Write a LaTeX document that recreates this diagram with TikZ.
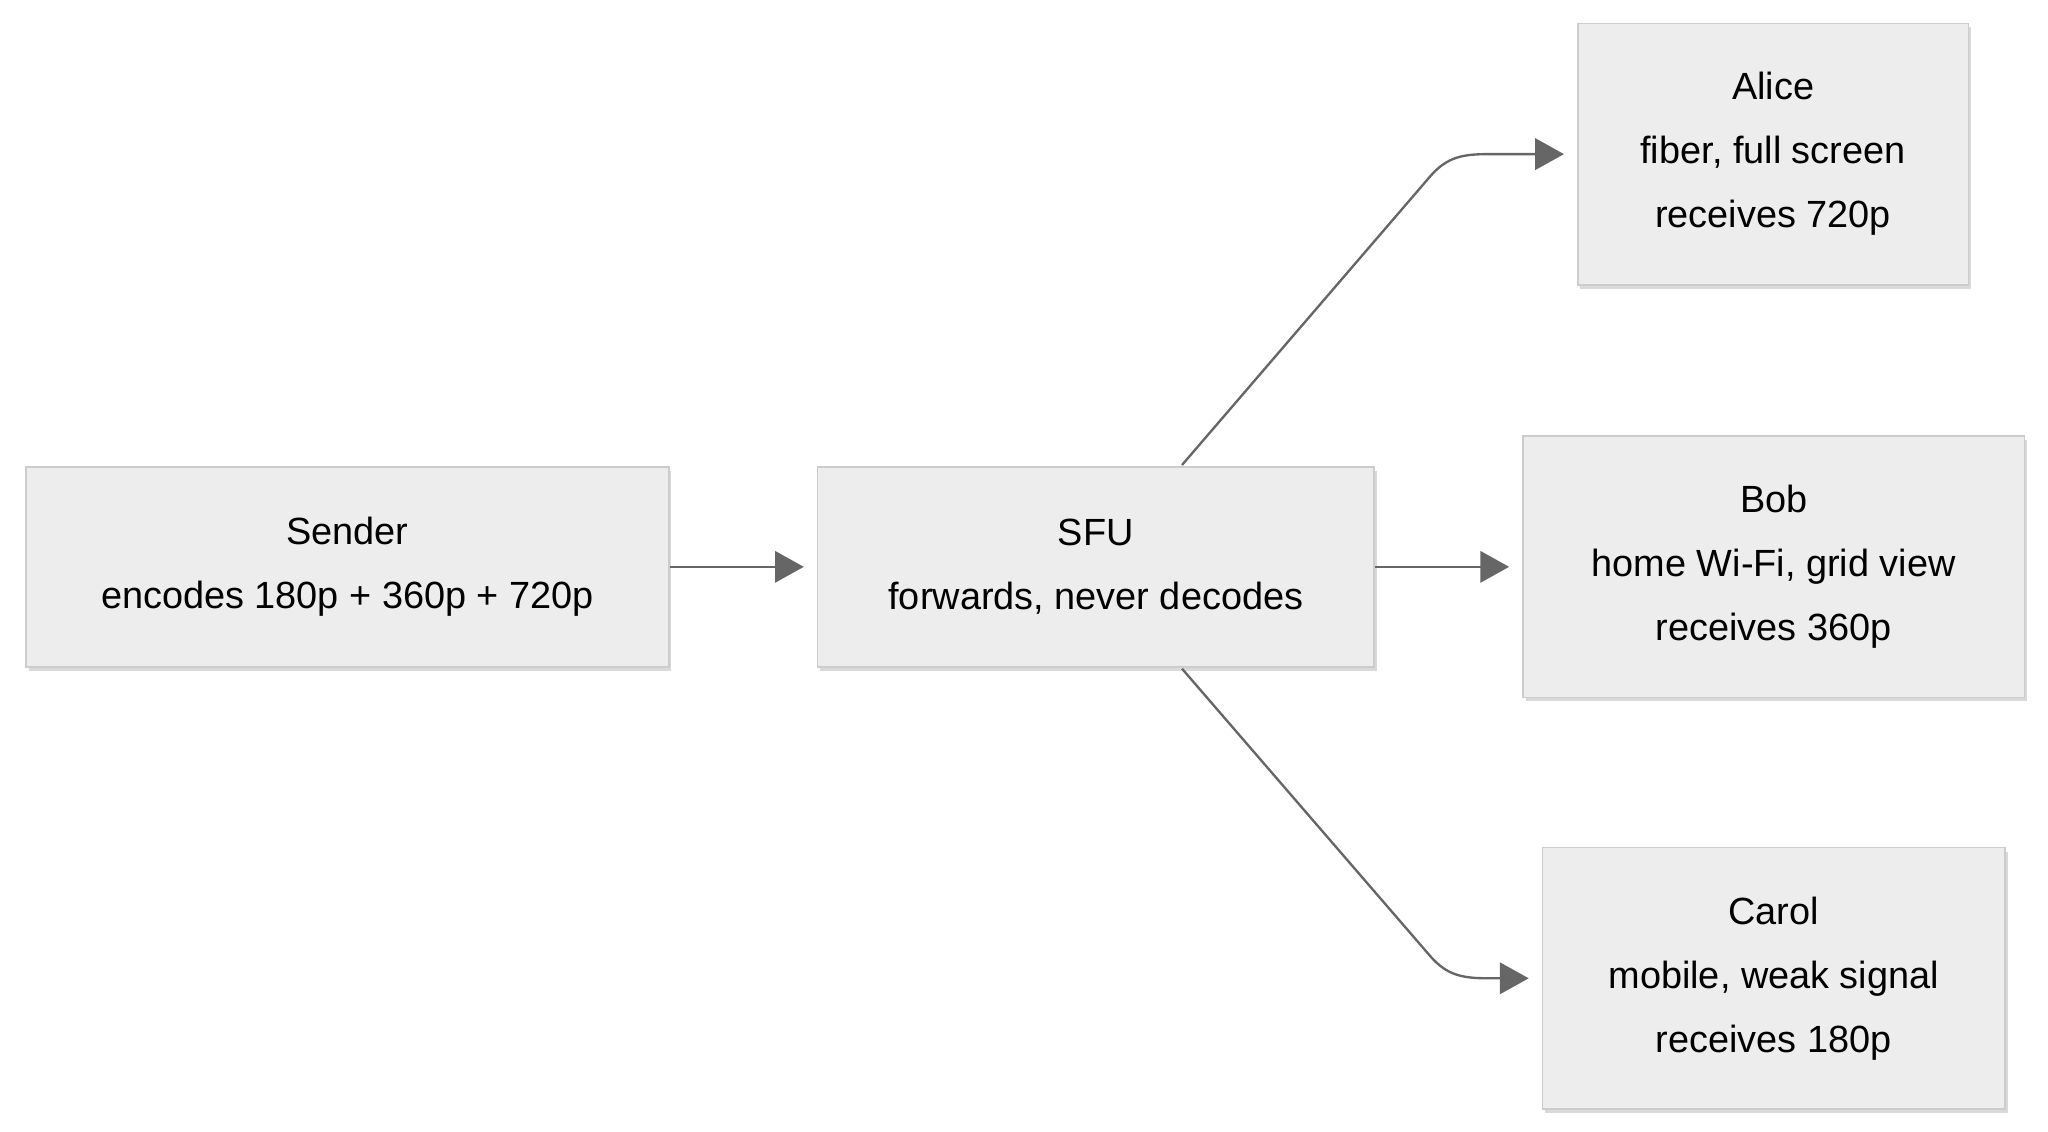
\documentclass[tikz,border=0pt]{standalone}
\usepackage{fontspec}
\setmainfont{Liberation Sans}
\usetikzlibrary{arrows.meta,shadows}
\begin{document}
\begin{tikzpicture}[x=1pt,y=-1pt,
  box/.style={draw=black!20,line width=1.2pt,fill=black!7,align=center,
    font=\fontsize{29}{49}\selectfont,inner sep=0pt,
    drop shadow={shadow xshift=2pt,shadow yshift=-3pt,fill=black!25,opacity=0.6}},
  conn/.style={draw=black!60,line width=1.8pt,-{Triangle[length=22pt,width=24pt]}}]
\useasboundingbox (0,0) rectangle (1568,866);
\node[box,minimum width=492pt,minimum height=153pt] (s) at (266,434) {Sender\\encodes 180p + 360p + 720p};
\node[box,minimum width=426pt,minimum height=153pt] (f) at (839,434) {SFU\\forwards, never decodes};
\node[box,minimum width=299pt,minimum height=200pt] (a) at (1357.5,118) {Alice\\fiber, full screen\\receives 720p};
\node[box,minimum width=384pt,minimum height=200pt] (b) at (1358,434) {Bob\\home Wi-Fi, grid view\\receives 360p};
\node[box,minimum width=354pt,minimum height=200pt] (c) at (1358,749) {Carol\\mobile, weak signal\\receives 180p};
\draw[conn] (s.east) -- ([xshift=-10pt]f.west);
\draw[conn] (f.east) -- ([xshift=-10pt]b.west);
\coordinate (a1) at (1095,135);
\coordinate (c1) at (1095,732);
\draw[conn] (905,356) -- (a1) .. controls (1108,120) and (1120,118) .. (1140,118) -- ([xshift=-10pt]a.west);
\draw[conn] (905,512) -- (c1) .. controls (1108,747) and (1120,749) .. (1140,749) -- ([xshift=-10pt]c.west);
\end{tikzpicture}
\end{document}
